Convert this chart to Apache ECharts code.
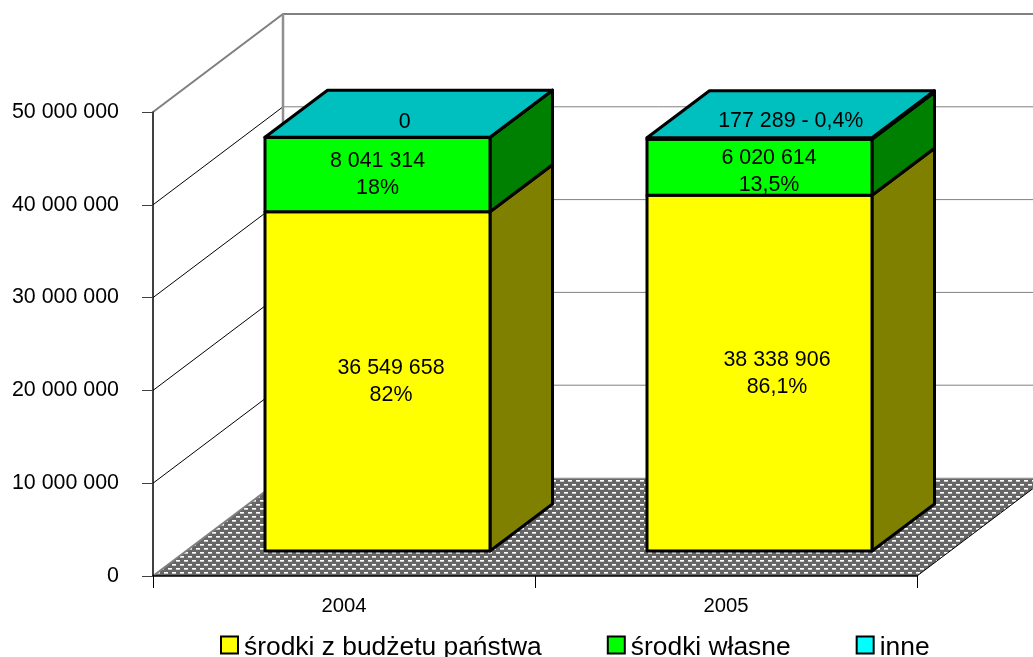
<!DOCTYPE html>
<html><head><meta charset="utf-8">
<style>html,body{margin:0;padding:0;background:#fff;overflow:hidden}#c{width:1033px;height:657px}</style>
<script src="https://cdn.jsdelivr.net/npm/echarts@6/dist/echarts.min.js"></script>
</head><body><div id="c"></div>
<script>
const categories = ['2004', '2005'];
const seriesNames = ['środki z budżetu państwa', 'środki własne', 'inne'];
const budget = [36549658, 38338906];
const own = [8041314, 6020614];
const other = [0, 177289];
const budgetLabels = ['36 549 658\n82%', '38 338 906\n86,1%'];
const ownLabels = ['8 041 314\n18%', '6 020 614\n13,5%'];
const otherLabels = ['0', '177 289 - 0,4%'];
const yTicks = [0, 10000000, 20000000, 30000000, 40000000, 50000000];

const FONT = '"Liberation Sans", Arial, sans-serif';
const WALL = [130, -98], BAR_OFF = [33.5, -25], BAR_DEPTH = [62.5, -47], BAR_W = 225;

const tile = document.createElement('canvas');
tile.width = 8; tile.height = 8;
const t = tile.getContext('2d');
t.fillStyle = '#666'; t.fillRect(0, 0, 8, 8);
[[0, 0], [4, 4]].forEach(([x, y]) => {
  t.fillStyle = '#fff'; t.fillRect(x, y, 4, 1);
  t.fillStyle = '#ccc'; t.fillRect(x, y + 1, 4, 1);
});

function frameItem(params, api) {
  const cs = params.coordSys, kids = [];
  const xL = cs.x, xR = cs.x + cs.width;
  const y0 = api.coord([0, 0])[1];
  const line = (pts, stroke, lw) => ({ type: 'polyline', shape: { points: pts }, style: { stroke, lineWidth: lw, fill: null } });
  kids.push({ type: 'polygon', shape: { points: [[xL, y0], [xL + WALL[0], y0 + WALL[1]], [xR + WALL[0], y0 + WALL[1]], [xR, y0]] },
    style: { fill: { image: tile, repeat: 'repeat' }, stroke: null } });
  kids.push(line([[xL, y0], [xL + WALL[0], y0 + WALL[1]]], '#808080', 2));
  kids.push(line([[xL + WALL[0], y0 + WALL[1]], [xR + WALL[0], y0 + WALL[1]]], '#c0c0c0', 1));
  kids.push(line([[xR, y0], [xR + WALL[0], y0 + WALL[1]]], '#000', 1));
  yTicks.slice(1, -1).forEach(v => {
    const y = api.coord([0, v])[1];
    kids.push(line([[xL, y], [xL + WALL[0], y + WALL[1]]], '#000', 1));
    kids.push(line([[xL + WALL[0], y + WALL[1]], [xR + WALL[0], y + WALL[1]]], '#808080', 1));
  });
  const yTop = api.coord([0, yTicks[yTicks.length - 1]])[1];
  kids.push(line([[xL, yTop], [xL + WALL[0], yTop + WALL[1]], [xR + WALL[0], yTop + WALL[1]]], '#808080', 2));
  kids.push(line([[xL + WALL[0], yTop + WALL[1]], [xL + WALL[0], y0 + WALL[1]]], '#909090', 2.5));
  return { type: 'group', children: kids };
}

function shade(fill, k) {
  return 'rgb(' + fill.map(c => Math.round(c * k)).join(',') + ')';
}

function barRenderer(rgb, texts, shifts, topFace) {
  return function (params, api) {
    const i = api.value(0), lo = api.value(1), hi = api.value(2);
    const c = api.coord([i, 0])[0];
    const yLo = api.coord([i, lo])[1] + BAR_OFF[1], yHi = api.coord([i, hi])[1] + BAR_OFF[1];
    const xa = c + BAR_OFF[0] - BAR_W / 2, xb = xa + BAR_W;
    const [dx, dy] = BAR_DEPTH;
    const st = f => ({ fill: f, stroke: '#000', lineWidth: 3, lineJoin: 'round' });
    const kids = [
      { type: 'polygon', shape: { points: [[xb, yLo], [xb + dx, yLo + dy], [xb + dx, yHi + dy], [xb, yHi]] }, style: st(shade(rgb, 0.5)) },
      { type: 'polygon', shape: { points: [[xa, yLo], [xb, yLo], [xb, yHi], [xa, yHi]] }, style: st(shade(rgb, 1)) }
    ];
    if (topFace) kids.push({ type: 'polygon', shape: { points: [[xa, yHi], [xb, yHi], [xb + dx, yHi + dy], [xa + dx, yHi + dy]] }, style: st(shade(rgb, 0.75)) });
    const s = shifts[params.dataIndex];
    const base = topFace ? [(xa + xb + dx) / 2, yHi + dy / 2] : [(xa + xb) / 2, (yLo + yHi) / 2];
    kids.push({ type: 'text', style: { x: base[0] + s[0], y: base[1] + s[1], text: texts[params.dataIndex], fill: '#000', align: 'center', verticalAlign: 'middle',
      font: '21.4px ' + FONT, lineHeight: 27 } });
    return { type: 'group', children: kids };
  };
}

const budgetData = budget.map((v, i) => [i, 0, v]);
const ownData = own.map((v, i) => [i, budget[i], budget[i] + v]);
const otherData = other.map((v, i) => [i, budget[i] + own[i], budget[i] + own[i] + v]);

const chart = echarts.init(document.getElementById('c'), null, { renderer: 'canvas' });
chart.setOption({
  animation: false,
  backgroundColor: '#fff',
  grid: { left: 153, right: 116, top: 112, bottom: 81, containLabel: false },
  legend: {
    left: 215, top: 630, itemWidth: 17, itemHeight: 17, itemGap: 65, selectedMode: false,
    formatter: n => '{a|' + n + '}',
    textStyle: { fontFamily: FONT, fontSize: 26.4, color: '#000',
      rich: { a: { fontFamily: FONT, fontSize: 26.4, color: '#000', padding: [6, 0, 0, 1] } } },
    data: [
      { name: seriesNames[0], icon: 'rect', itemStyle: { color: '#ffff00', borderColor: '#000', borderWidth: 2 } },
      { name: seriesNames[1], icon: 'rect', itemStyle: { color: '#00ff00', borderColor: '#000', borderWidth: 2 } },
      { name: seriesNames[2], icon: 'rect', itemStyle: { color: '#00ffff', borderColor: '#000', borderWidth: 2 } }
    ]
  },
  xAxis: {
    type: 'category', data: categories, boundaryGap: true,
    axisLine: { lineStyle: { color: '#000', width: 1.5 } },
    axisTick: { show: true, alignWithLabel: false, length: 12, lineStyle: { color: '#000' } },
    axisLabel: { fontFamily: FONT, fontSize: 20.3, color: '#000', margin: 20 },
    splitLine: { show: false }, z: 5
  },
  yAxis: {
    type: 'value', min: 0, max: 50000000, interval: 10000000,
    axisLine: { show: true, lineStyle: { color: '#000', width: 1.5 } },
    axisTick: { show: true, length: 11, lineStyle: { color: '#404040' } },
    axisLabel: { fontFamily: FONT, fontSize: 21.4, color: '#000', margin: 34,
      formatter: v => String(v).replace(/\B(?=(\d{3})+$)/g, ' ') },
    splitLine: { show: false }, z: 5
  },
  series: [
    { type: 'custom', name: 'frame', silent: true, clip: false, z: 1, renderItem: frameItem, data: [[0, 0, 0]], encode: { x: 0, y: 1 } },
    { type: 'custom', name: seriesNames[0], clip: false, z: 3, itemStyle: { color: '#ffff00' }, encode: { x: 0, y: 2 },
      renderItem: barRenderer([255, 255, 0], budgetLabels, [[13.5, 0.5], [17.5, 1]], false), data: budgetData },
    { type: 'custom', name: seriesNames[1], clip: false, z: 3, itemStyle: { color: '#00ff00' }, encode: { x: 0, y: 2 },
      renderItem: barRenderer([0, 255, 0], ownLabels, [[0, 0], [9.5, 4.5]], false), data: ownData },
    { type: 'custom', name: seriesNames[2], clip: false, z: 3, itemStyle: { color: '#00ffff' }, encode: { x: 0, y: 2 },
      renderItem: barRenderer([0, 255, 255], otherLabels, [[-4, 8.5], [0, 7]], true), data: otherData }
  ]
});
</script></body></html>
